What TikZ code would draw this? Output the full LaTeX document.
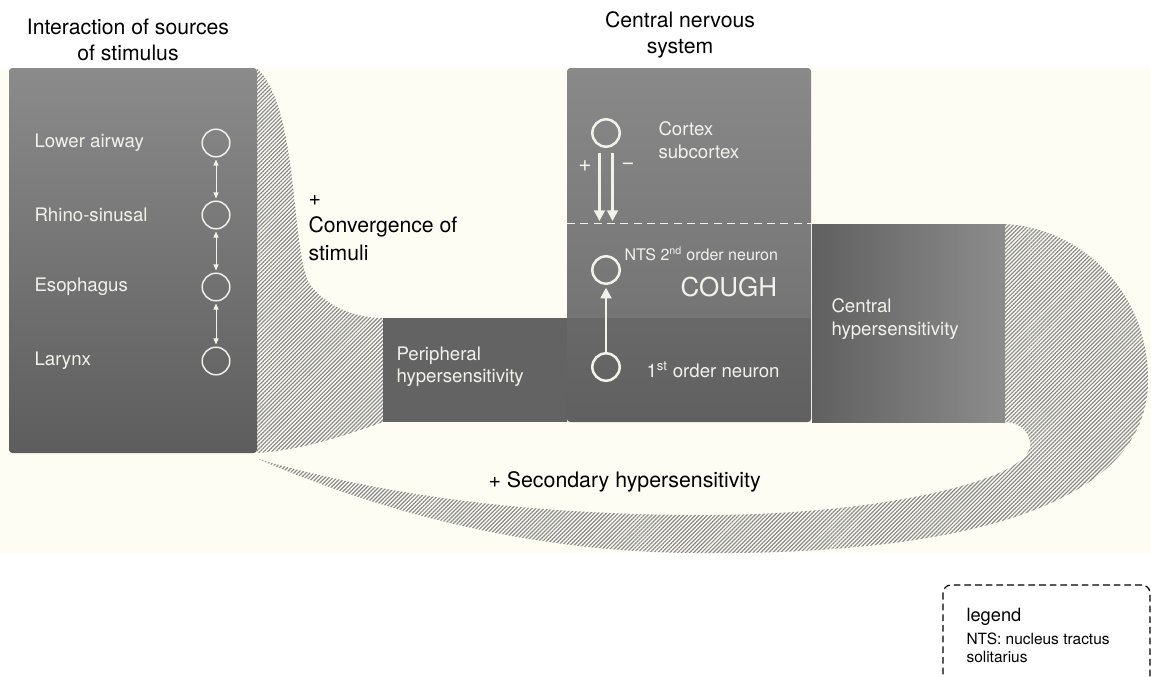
\documentclass[tikz,border=0pt]{standalone}
\usepackage{fontspec}
\setmainfont{TeX Gyre Heros}
\usetikzlibrary{arrows.meta,patterns.meta}
\definecolor{creamBG}{HTML}{FDFDF3}
\definecolor{srcTop}{HTML}{8B8B8B}
\definecolor{srcBottom}{HTML}{5D5D5D}
\definecolor{cnsTop}{HTML}{898989}
\definecolor{cnsBottom}{HTML}{6C6C6C}
\definecolor{periGray}{HTML}{636363}
\definecolor{centLeft}{HTML}{606060}
\definecolor{centRight}{HTML}{8C8C8C}
\definecolor{hatchGray}{HTML}{8A8A8A}
\definecolor{neuronWhite}{HTML}{F2F2EC}
\tikzset{every picture/.style={line width=0.75pt}}
\tikzset{
  hatch/.style={pattern={Lines[angle=45,distance=2.1pt,line width=0.9pt]}, pattern color=hatchGray},
  source/.style={circle, draw=neuronWhite, line width=1.1pt, minimum size=20.7pt, inner sep=0pt},
  neuron/.style={circle, draw=neuronWhite, line width=1.9pt, minimum size=20.5pt, inner sep=0pt},
  linkarrow/.style={{Triangle[length=4.5pt,width=3.8pt]}-{Triangle[length=4.5pt,width=3.8pt]}, draw=neuronWhite, line width=0.75pt, shorten <=1.5pt, shorten >=1.5pt},
  bigarrow/.style={-{Triangle[length=8pt,width=8pt]}, draw=neuronWhite, line width=2.2pt},
  boxlabel/.style={anchor=west, inner sep=0pt, text=neuronWhite, align=left, font=\fontsize{14}{17.2}\selectfont},
  title/.style={inner sep=0pt, align=center, font=\fontsize{15.9}{19.5}\selectfont}
}
\begin{document}
\begin{tikzpicture}[x=0.75pt,y=0.75pt,yscale=-1,xscale=1]
\useasboundingbox (0,0) rectangle (1151,676);

%Shape: Rectangle [background]
\fill [creamBG] (0,68) rectangle (1151,553);
%Shape: Hatch [convergence of stimuli]
\fill [hatch] (257,68) .. controls (300,110) and (290,250) .. (310,285) .. controls (330,310) and (360,318) .. (383,318) -- (383,422) .. controls (355,432) and (305,450) .. (257,453) -- cycle;
%Shape: Hatch [secondary hypersensitivity]
\fill [hatch] (258,459) .. controls (400,520) and (550,553) .. (700,553) .. controls (950,555) and (1148,510) .. (1148,380) .. controls (1148,290) and (1080,228) .. (1005,224) -- (1005,422) .. controls (1015,422) and (1030,428) .. (1030,445) .. controls (1030,480) and (880,515) .. (705,515) .. controls (550,515) and (400,500) .. (258,459) -- cycle;

%Shape: Rectangle [sources of stimulus]
\shade [top color=srcTop, bottom color=srcBottom, rounded corners=2.5pt] (9,68) rectangle (257,453);
%Shape: Rectangle [central nervous system]
\shade [top color=cnsTop, bottom color=cnsBottom, rounded corners=2.5pt] (567,68) rectangle (811,422);
%Shape: Rectangle [peripheral hypersensitivity]
\fill [periGray] (383,318) rectangle (567,422);
\fill [black, fill opacity=0.1] (567,318) rectangle (811,422);
%Shape: Rectangle [central hypersensitivity]
\shade [left color=centLeft, right color=centRight] (812,224) rectangle (1005,422);
%Straight Lines [brain stem border]
\coordinate (split) at (567,223);
\coordinate (split end) at (811,223);
\draw [neuronWhite, dash pattern=on 6pt off 4pt] (split) -- (split end);

%Shape: Circles [sources]
\draw (216,143) node (lower) [source] {};
\draw (216,215) node (rhino) [source] {};
\draw (216,287) node (esoph) [source] {};
\draw (216,361) node (larynx) [source] {};
\draw [linkarrow] (lower) -- (rhino);
\draw [linkarrow] (rhino) -- (esoph);
\draw [linkarrow] (esoph) -- (larynx);

%Shape: Circles [neurons]
\draw (606,133) node (cortex) [neuron] {};
\draw (606,270) node (nts) [neuron] {};
\draw (606,367) node (first) [neuron] {};
\draw [bigarrow, shorten <=4pt, shorten >=1.5pt] ([xshift=-4.9pt]cortex.south) -- ([xshift=-4.9pt]cortex.south |- split);
\draw [bigarrow, shorten <=4pt, shorten >=1.5pt] ([xshift=4.9pt]cortex.south) -- ([xshift=4.9pt]cortex.south |- split);
\draw [bigarrow, shorten >=2pt] (first) -- (nts);

% Text Node
\draw (128,40) node (srctitle) [title] {Interaction of sources\\of stimulus};
% Text Node
\draw (680,35) node (cnstitle) [title] {Central nervous\\system};
% Text Node
\draw (34,143) node (lowerlbl) [boxlabel] {Lower airway};
% Text Node
\draw (34,215) node (rhinolbl) [boxlabel] {Rhino-sinusal};
% Text Node
\draw (34,287) node (esophlbl) [boxlabel] {Esophagus};
% Text Node
\draw (34,361) node (larynxlbl) [boxlabel] {Larynx};
% Text Node
\draw (308,228) node (convlbl) [anchor=west, inner sep=0pt, align=left, font=\fontsize{15.9}{20.5}\selectfont] {+\\Convergence of\\stimuli};
% Text Node
\draw (396,367) node (perilbl) [boxlabel, font=\fontsize{14}{16.8}\selectfont] {Peripheral\\hypersensitivity};
% Text Node
\draw (658,140) node (cortexlbl) [boxlabel] {Cortex\\subcortex};
% Text Node
\draw (585,166) node (pluslbl) [boxlabel, anchor=center, font=\fontsize{17}{20}\selectfont] {+};
% Text Node
\draw (628,166) node (minuslbl) [boxlabel, anchor=center, font=\fontsize{17}{20}\selectfont] {\char"2212};
% Text Node
\draw (624,254) node (ntslbl) [boxlabel, font=\fontsize{12}{14}\selectfont] {NTS 2\textsuperscript{nd} order neuron};
% Text Node
\draw (680,287) node (coughlbl) [boxlabel, font=\fontsize{19.5}{22}\selectfont] {COUGH};
% Text Node
\draw (646,370) node (firstlbl) [boxlabel] {1\textsuperscript{st} order neuron};
% Text Node
\draw (831,319) node (centlbl) [boxlabel] {Central\\hypersensitivity};
% Text Node
\draw (488,482) node (secondlbl) [anchor=west, inner sep=0pt, font=\fontsize{16}{19}\selectfont] {+ Secondary hypersensitivity};

%Shape: Rectangle [legend]
\draw [line width=0.9pt, dash pattern=on 5pt off 3pt, rounded corners=6pt] (943,585) rectangle (1150,684);
% Text Node
\draw (966,617) node (legendlbl) [anchor=west, inner sep=0pt, font=\fontsize{13.7}{16}\selectfont] {legend};
% Text Node
\draw (966,648) node (ntsnote) [anchor=west, inner sep=0pt, align=left, font=\fontsize{11.6}{13.5}\selectfont] {NTS: nucleus tractus\\solitarius};

\end{tikzpicture}
\end{document}
